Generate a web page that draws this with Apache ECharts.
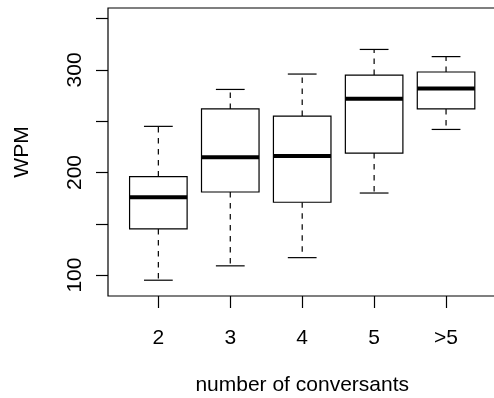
<!DOCTYPE html>
<html>
<head>
<meta charset="utf-8">
<script src="https://cdn.jsdelivr.net/npm/echarts@6/dist/echarts.min.js"></script>
<style>
  html, body { margin: 0; padding: 0; background: #fff; }
  #chart { width: 494px; height: 398px; }
</style>
</head>
<body>
<div id="chart"></div>
<script>
// 各组人数
const categories = ['2', '3', '4', '5', '>5'];
// 箱线图五个数
const lowerWhisker = [95, 109, 117, 180, 242];
const q1 = [145, 181, 171, 219, 262];
const median = [176, 215, 216, 272, 282];
const q3 = [196, 262, 255, 295, 298];
const upperWhisker = [245, 281, 296, 320, 313];
// 刻度
const yTicks = [100, 150, 200, 250, 300, 350];
const yLabels = [100, 200, 300];
const xTicks = [1, 2, 3, 4, 5];

const font = '"Liberation Sans", Arial, Helvetica, sans-serif';

const boxData = categories.map((c, i) => [
  i + 1, lowerWhisker[i], q1[i], median[i], q3[i], upperWhisker[i]
]);

function renderBox(params, api) {
  const x = api.value(0);
  const pLow = api.coord([x, api.value(1)]);
  const pQ1 = api.coord([x, api.value(2)]);
  const pMed = api.coord([x, api.value(3)]);
  const pQ3 = api.coord([x, api.value(4)]);
  const pHigh = api.coord([x, api.value(5)]);
  const half = api.size([0.8, 0])[0] / 2;
  const cap = half / 2;
  const cx = pMed[0];
  const line = { stroke: '#000', lineWidth: 1.2 };
  const dashed = { stroke: '#000', lineWidth: 1.2, lineDash: [5.5, 5.5] };
  return {
    type: 'group',
    children: [
      { type: 'line', shape: { x1: cx, y1: pQ3[1], x2: cx, y2: pHigh[1] }, style: dashed },
      { type: 'line', shape: { x1: cx, y1: pQ1[1], x2: cx, y2: pLow[1] }, style: dashed },
      { type: 'line', shape: { x1: cx - cap, y1: pHigh[1], x2: cx + cap, y2: pHigh[1] }, style: line },
      { type: 'line', shape: { x1: cx - cap, y1: pLow[1], x2: cx + cap, y2: pLow[1] }, style: line },
      { type: 'rect', shape: { x: cx - half, y: pQ3[1], width: half * 2, height: pQ1[1] - pQ3[1] },
        style: { fill: '#fff', stroke: '#000', lineWidth: 1.2 } },
      { type: 'line', shape: { x1: cx - half, y1: pMed[1], x2: cx + half, y2: pMed[1] },
        style: { stroke: '#000', lineWidth: 4 } }
    ]
  };
}

const chart = echarts.init(document.getElementById('chart'), null, { renderer: 'canvas' });
chart.setOption({
  animation: false,
  backgroundColor: '#fff',
  grid: {
    left: 108, top: 8, width: 388.4, height: 288,
    outerBoundsMode: 'none',
    containLabel: false,
    show: true, borderColor: '#000', borderWidth: 1.2, backgroundColor: 'transparent'
  },
  xAxis: {
    type: 'value',
    min: 0.3,
    max: 5.7,
    name: 'number of conversants',
    nameLocation: 'middle',
    nameGap: 79,
    nameTextStyle: { color: '#000', fontSize: 21, fontFamily: font },
    axisLine: { show: false },
    splitLine: { show: false },
    axisTick: { show: true, length: 12, customValues: xTicks, lineStyle: { color: '#000', width: 1.2 } },
    axisLabel: {
      customValues: xTicks,
      margin: 32,
      color: '#000',
      fontSize: 21,
      fontFamily: font,
      formatter: v => categories[v - 1]
    }
  },
  yAxis: {
    type: 'value',
    min: 79.6,
    max: 360.4,
    name: 'WPM',
    nameLocation: 'middle',
    nameGap: 75,
    nameRotate: 90,
    nameTextStyle: { color: '#000', fontSize: 21, fontFamily: font },
    axisLine: { show: false },
    splitLine: { show: false },
    axisTick: { show: true, length: 12, customValues: yTicks, lineStyle: { color: '#000', width: 1.2 } },
    axisLabel: {
      customValues: yLabels,
      rotate: 90,
      margin: 22,
      color: '#000',
      fontSize: 21,
      fontFamily: font
    }
  },
  series: [{
    type: 'custom',
    renderItem: renderBox,
    data: boxData,
    encode: { x: 0, y: [1, 2, 3, 4, 5] },
    clip: false
  }]
});
</script>
</body>
</html>
